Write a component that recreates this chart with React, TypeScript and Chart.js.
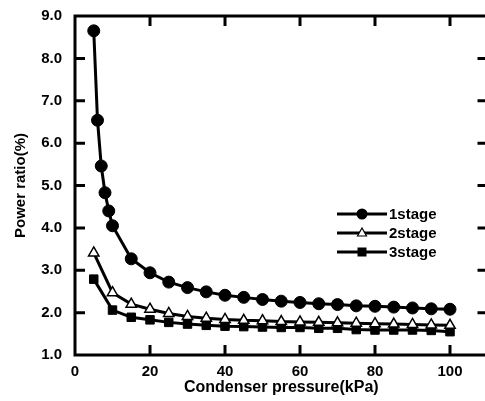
import React, { useEffect, useRef } from 'react';
import { Chart, registerables } from 'chart.js';

Chart.register(...registerables);

// ---- data ----
const pressureStage1 = [5, 6, 7, 8, 9, 10, 15, 20, 25, 30, 35, 40, 45, 50, 55, 60, 65, 70, 75, 80, 85, 90, 95, 100];
const ratioStage1 = [8.65, 6.54, 5.46, 4.83, 4.40, 4.05, 3.27, 2.94, 2.72, 2.59, 2.49, 2.41, 2.36, 2.31, 2.27, 2.24, 2.21, 2.19, 2.16, 2.15, 2.13, 2.11, 2.09, 2.08];

const pressureStage23 = [5, 10, 15, 20, 25, 30, 35, 40, 45, 50, 55, 60, 65, 70, 75, 80, 85, 90, 95, 100];
const ratioStage2 = [3.41, 2.47, 2.20, 2.08, 1.98, 1.91, 1.87, 1.84, 1.82, 1.81, 1.79, 1.78, 1.77, 1.76, 1.75, 1.74, 1.73, 1.72, 1.71, 1.70];
const ratioStage3 = [2.79, 2.06, 1.89, 1.83, 1.77, 1.73, 1.70, 1.68, 1.67, 1.66, 1.65, 1.65, 1.63, 1.63, 1.60, 1.59, 1.59, 1.59, 1.58, 1.55];

const seriesNames = ['1stage', '2stage', '3stage'];
const xTickValues = [0, 20, 40, 60, 80, 100];
const yTickValues = [1, 2, 3, 4, 5, 6, 7, 8, 9];

const FONT = '"Liberation Sans", Arial, sans-serif';

const toPoints = (xs: number[], ys: number[]) => xs.map((x, i) => ({ x, y: ys[i] }));

const framePlugin = {
  id: 'frame',
  beforeDatasetsDraw(chart: any) {
    const { ctx, chartArea } = chart;
    const { left, right, top, bottom } = chartArea;
    const xs = chart.scales.x;
    const ys = chart.scales.y;
    ctx.save();
    ctx.strokeStyle = '#000';
    ctx.lineWidth = 3;
    ctx.lineCap = 'butt';
    ctx.beginPath();
    xTickValues.forEach((v) => {
      if (v <= xs.min || v >= xs.max) return;
      const px = xs.getPixelForValue(v);
      ctx.moveTo(px, bottom);
      ctx.lineTo(px, bottom - 10);
      ctx.moveTo(px, top);
      ctx.lineTo(px, top + 10);
    });
    yTickValues.forEach((v) => {
      if (v <= ys.min || v >= ys.max) return;
      const py = ys.getPixelForValue(v);
      ctx.moveTo(left, py);
      ctx.lineTo(left + 10, py);
      ctx.moveTo(right, py);
      ctx.lineTo(right - 10, py);
    });
    ctx.stroke();
    ctx.lineJoin = 'miter';
    ctx.strokeRect(left, top, right - left, bottom - top);
    ctx.restore();
  },
};

const legendPlugin = {
  id: 'customLegend',
  afterDraw(chart: any) {
    const { ctx } = chart;
    ctx.save();
    const x0 = 337;
    const x1 = 387;
    const mx = 362;
    chart.data.datasets.forEach((ds: any, i: number) => {
      const y = 214 + i * 19;
      ctx.strokeStyle = '#000';
      ctx.lineWidth = 3;
      ctx.beginPath();
      ctx.moveTo(x0, y);
      ctx.lineTo(x1, y);
      ctx.stroke();
      if (ds.pointStyle === 'circle') {
        ctx.fillStyle = '#000';
        ctx.beginPath();
        ctx.arc(mx, y, 5.5, 0, Math.PI * 2);
        ctx.fill();
      } else if (ds.pointStyle === 'triangle') {
        ctx.fillStyle = '#fff';
        ctx.strokeStyle = '#000';
        ctx.lineWidth = 1.2;
        ctx.beginPath();
        ctx.moveTo(mx, y - 5);
        ctx.lineTo(mx + 4.5, y + 3);
        ctx.lineTo(mx - 4.5, y + 3);
        ctx.closePath();
        ctx.fill();
        ctx.stroke();
      } else {
        ctx.fillStyle = '#000';
        ctx.fillRect(mx - 4.5, y - 4.5, 9, 9);
      }
      ctx.fillStyle = '#000';
      ctx.font = `bold 15px ${FONT}`;
      ctx.textAlign = 'left';
      ctx.textBaseline = 'middle';
      ctx.fillText(ds.label, x1 + 2, y + 0.5);
    });
    ctx.restore();
  },
};

export default function App() {
  const canvasRef = useRef<HTMLCanvasElement | null>(null);

  useEffect(() => {
    if (!canvasRef.current) return;
    Chart.defaults.font.family = FONT;
    Chart.defaults.color = '#000';
    const chart = new Chart(canvasRef.current, {
      type: 'line',
      data: {
        datasets: [
          {
            label: seriesNames[0],
            data: toPoints(pressureStage1, ratioStage1),
            borderColor: '#000',
            borderWidth: 3,
            pointStyle: 'circle',
            pointRadius: 6,
            pointBackgroundColor: '#000',
            pointBorderColor: '#000',
            pointBorderWidth: 1,
            tension: 0,
          },
          {
            label: seriesNames[1],
            data: toPoints(pressureStage23, ratioStage2),
            borderColor: '#000',
            borderWidth: 3,
            pointStyle: 'triangle',
            pointRadius: 6,
            pointBackgroundColor: '#fff',
            pointBorderColor: '#000',
            pointBorderWidth: 1.5,
            tension: 0,
          },
          {
            label: seriesNames[2],
            data: toPoints(pressureStage23, ratioStage3),
            borderColor: '#000',
            borderWidth: 3,
            pointStyle: 'rect',
            pointRadius: 6,
            pointBackgroundColor: '#000',
            pointBorderColor: '#000',
            pointBorderWidth: 1,
            tension: 0,
          },
        ],
      },
      options: {
        animation: false,
        responsive: false,
        maintainAspectRatio: false,
        devicePixelRatio: 1,
        clip: false as any,
        layout: { padding: { left: 0, right: 6, top: 16, bottom: 0 } },
        plugins: {
          legend: { display: false },
          tooltip: { enabled: false },
        },
        scales: {
          x: {
            type: 'linear',
            min: 0,
            max: 110,
            grid: { display: false, drawTicks: false, tickLength: 0 },
            border: { display: false },
            afterBuildTicks: (axis: any) => {
              axis.ticks = xTickValues.map((v) => ({ value: v }));
            },
            afterFit: (scale: any) => {
              scale.height = 46;
              scale.paddingLeft = 0;
              scale.paddingRight = 0;
              scale.paddingTop = 0;
              scale.paddingBottom = 0;
            },
            ticks: {
              padding: 8,
              maxRotation: 0,
              autoSkip: false,
              font: { size: 15, weight: 'bold' },
              color: '#000',
              callback: (v: any) => String(v),
            },
            title: {
              display: true,
              text: 'Condenser pressure(kPa)',
              font: { size: 16, weight: 'bold' },
              color: '#000',
              padding: { top: 0, bottom: 4 },
            },
          },
          y: {
            type: 'linear',
            min: 1,
            max: 9,
            grid: { display: false, drawTicks: false, tickLength: 0 },
            border: { display: false },
            afterBuildTicks: (axis: any) => {
              axis.ticks = yTickValues.map((v) => ({ value: v }));
            },
            afterFit: (scale: any) => {
              scale.width = 75;
              scale.paddingLeft = 0;
              scale.paddingRight = 0;
              scale.paddingTop = 0;
              scale.paddingBottom = 0;
            },
            ticks: {
              padding: 13,
              autoSkip: false,
              font: { size: 15, weight: 'bold' },
              color: '#000',
              callback: (v: any) => Number(v).toFixed(1),
            },
            title: {
              display: true,
              text: 'Power ratio(%)',
              font: { size: 15, weight: 'bold' },
              color: '#000',
              padding: { top: 12, bottom: 0 },
            },
          },
        },
      },
      plugins: [framePlugin, legendPlugin],
    });
    return () => chart.destroy();
  }, []);

  return (
    <div
      style={{
        position: 'absolute',
        left: 0,
        top: 0,
        width: 485,
        height: 401,
        overflow: 'hidden',
        background: '#fff',
      }}
    >
      <canvas ref={canvasRef} width={495} height={401} style={{ display: 'block', width: 495, height: 401 }} />
    </div>
  );
}
